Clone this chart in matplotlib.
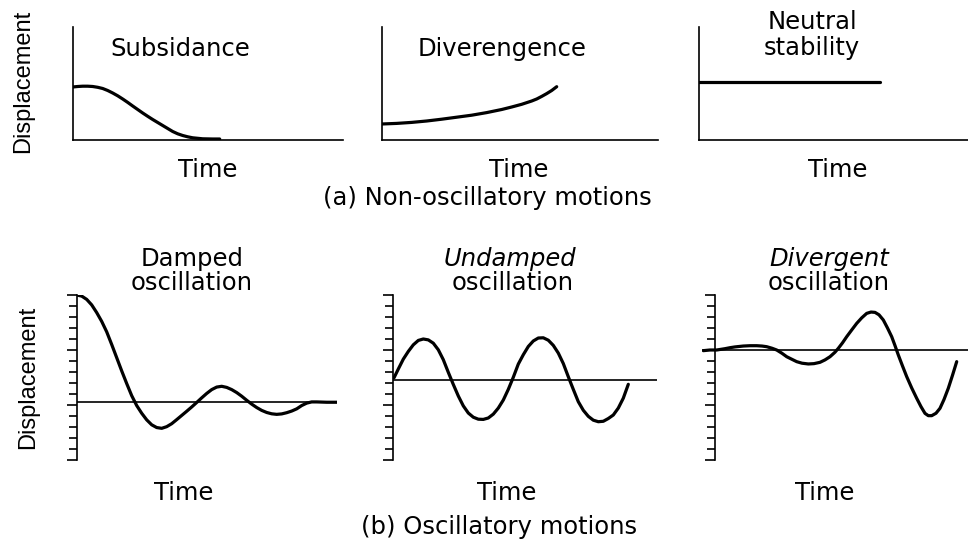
import numpy as np
import matplotlib.pyplot as plt

W, H = 968, 539

# (a) non-oscillatory motions: time, displacement
subsidance_t = [0, 0.5, 1, 1.5, 2, 2.5, 3, 3.5, 4, 4.5, 5, 5.5, 6, 6.5, 7, 7.5, 8, 8.5, 9,
                9.5, 10, 10.5, 11, 11.5, 12, 13, 14, 14.7]
subsidance_d = [5.3, 5.35, 5.38, 5.38, 5.35, 5.27, 5.15, 4.95, 4.7, 4.42, 4.1, 3.76, 3.4,
                3.05, 2.7, 2.37, 2.05, 1.75, 1.45, 1.15, 0.85, 0.62, 0.45, 0.32, 0.22, 0.12,
                0.1, 0.1]

divergence_t = [0, 1.5, 3, 4.5, 6, 7.5, 9, 10.5, 12, 13, 14, 15, 15.5, 16, 16.5, 17, 17.5]
divergence_d = [1.6, 1.66, 1.76, 1.9, 2.08, 2.28, 2.48, 2.74, 3.05, 3.3, 3.57, 3.9, 4.1,
                4.36, 4.64, 4.95, 5.33]

neutral_t = [0, 18.1]
neutral_d = [5.77, 5.77]

# (b) oscillatory motions
damped_t = [0, 0.5, 1, 1.5, 2, 2.5, 3, 3.5, 4, 4.5, 5, 5.5, 6, 6.5, 7, 7.5, 8, 8.5, 9, 9.5,
            10, 10.5, 11, 11.5, 12, 12.5, 13, 13.5, 14, 14.5, 15, 15.5, 16, 16.5, 17, 17.5,
            18, 18.5, 19, 19.5, 20, 20.5, 21, 21.5, 22, 22.5, 23, 23.5, 24, 25, 26.17]
damped_d = [9.75, 9.65, 9.35, 8.85, 8.15, 7.35, 6.4, 5.25, 4.05, 2.85, 1.7, 0.6, -0.3, -1.0,
            -1.6, -2.05, -2.3, -2.37, -2.22, -1.95, -1.58, -1.2, -0.82, -0.43, -0.02, 0.4,
            0.8, 1.15, 1.38, 1.45, 1.35, 1.15, 0.88, 0.55, 0.18, -0.17, -0.48, -0.74, -0.93,
            -1.05, -1.1, -1.06, -0.95, -0.8, -0.6, -0.3, -0.08, 0.03, 0.03, 0, 0]

undamped_t = [0.07, 0.5, 1, 1.5, 2, 2.5, 3, 3.5, 4, 4.5, 5, 5.5, 6, 6.5, 7, 7.5, 8, 8.5, 9,
              9.5, 10, 10.5, 11, 11.5, 12, 12.5, 13, 13.5, 14, 14.5, 15, 15.5, 16, 16.5, 17,
              17.5, 18, 18.5, 19, 19.5, 20, 20.5, 21, 21.5, 22, 22.5, 23, 23.5]
undamped_d = [0.2, 1.0, 1.9, 2.6, 3.2, 3.6, 3.73, 3.65, 3.35, 2.75, 1.85, 0.7, -0.4, -1.45,
              -2.35, -3.0, -3.38, -3.56, -3.58, -3.45, -3.1, -2.55, -1.82, -0.85, 0.25, 1.45,
              2.3, 3.05, 3.55, 3.82, 3.84, 3.62, 3.15, 2.45, 1.5, 0.3, -0.85, -1.97, -2.75,
              -3.3, -3.65, -3.79, -3.75, -3.5, -3.18, -2.55, -1.65, -0.39]

divergent_t = [-1.17, -0.5, 0.17, 1.0, 1.5, 2.0, 2.83, 3.5, 4.17, 4.7, 5.17, 5.7, 6.17, 6.7,
               7.17, 7.7, 8.17, 8.7, 9.33, 9.9, 10.5, 11.0, 11.5, 12.0, 12.33, 12.75, 13.17,
               13.67, 14.17, 14.67, 15.17, 15.6, 16.0, 16.4, 16.83, 17.25, 17.67, 18.0,
               18.33, 18.75, 19.17, 19.67, 20.17, 20.6, 21.0, 21.33, 21.67, 22.1, 22.5,
               22.9, 23.33, 23.75, 24.17]
divergent_d = [-0.06, 0, 0, 0.12, 0.21, 0.28, 0.36, 0.39, 0.39, 0.36, 0.3, 0.16, 0, -0.3,
               -0.61, -0.85, -1.06, -1.2, -1.27, -1.24, -1.12, -0.9, -0.61, -0.2, 0.15, 0.65,
               1.21, 1.82, 2.42, 2.92, 3.33, 3.45, 3.42, 3.2, 2.73, 2.0, 1.21, 0.4, -0.45,
               -1.45, -2.42, -3.45, -4.39, -5.15, -5.76, -5.97, -5.97, -5.75, -5.3, -4.5,
               -3.48, -2.3, -1.06]

FONT = 'DejaVu Sans'
CURVE_LW = 2.3
AXIS_LW = 1.2

fig = plt.figure(figsize=(W / 100, H / 100), dpi=100)


def px_axes(left, top, right, bottom):
    # place an axes using pixel edges measured from the top-left corner
    return fig.add_axes([left / W, 1 - bottom / H, (right - left) / W, (bottom - top) / H])


def label(x, y, s, size=17.5, **kw):
    fig.text(x / W, 1 - y / H, s, ha='center', va='center', family=FONT, size=size, **kw)


def top_panel(left, right, t, d):
    ax = px_axes(left, 26.7, right, 140)
    ax.plot(t, d, color='black', lw=CURVE_LW, solid_capstyle='round', solid_joinstyle='round')
    ax.set_xlim(0, (right - left) / 10)
    ax.set_ylim(0, 11.33)
    for s in ['top', 'right']:
        ax.spines[s].set_visible(False)
    for s in ['left', 'bottom']:
        ax.spines[s].set_linewidth(AXIS_LW)
    ax.set_xticks([])
    ax.set_yticks([])
    ax.patch.set_alpha(0)
    return ax


def bottom_panel(left, right, t, d, top_val, x0=0.0):
    # y units are one tick step (11 px), x units are 10 px
    ax = px_axes(left, 295, right, 460)
    ax.axhline(0, color='black', lw=AXIS_LW)
    ax.plot(t, d, color='black', lw=CURVE_LW, solid_capstyle='round', solid_joinstyle='round')
    ax.set_xlim(x0, x0 + (right - left) / 10)
    ax.set_ylim(top_val - 15, top_val)
    for s in ['top', 'right', 'bottom']:
        ax.spines[s].set_visible(False)
    ax.spines['left'].set_linewidth(AXIS_LW)
    ax.spines['left'].set_position(('data', 0))
    steps = np.arange(16)
    ax.set_yticks(top_val - steps[::5])
    ax.set_yticks(top_val - np.delete(steps, steps[::5]), minor=True)
    ax.tick_params(axis='y', which='major', direction='out', length=7.5, width=AXIS_LW, labelleft=False)
    ax.tick_params(axis='y', which='minor', direction='out', length=5.5, width=AXIS_LW)
    ax.set_xticks([])
    ax.patch.set_alpha(0)
    return ax


# top row
top_panel(72.7, 343, subsidance_t, subsidance_d)
top_panel(381.7, 658, divergence_t, divergence_d)
top_panel(699, 968, neutral_t, neutral_d)

label(180, 49, 'Subsidance')
label(502, 49, 'Diverengence')
label(812, 22, 'Neutral')
label(812, 48, 'stability')
for x in [208, 519, 838]:
    label(x, 170, 'Time')
label(487, 198, '(a) Non-oscillatory motions')
fig.text(23 / W, 1 - 81 / H, 'Displacement', rotation=90, ha='center', va='center',
         family='Liberation Sans', size=17)

# bottom row
bottom_panel(76.7, 337, damped_t, damped_d, 9.75)
bottom_panel(393.3, 656.7, undamped_t, undamped_d, 7.73)
bottom_panel(701.7, 968, divergent_t, divergent_d, 5.0, x0=-1.33)

label(192, 259, 'Damped')
label(192, 283, 'oscillation')
label(510, 259, 'Undamped', style='italic')
label(513, 283, 'oscillation')
label(829, 259, 'Divergent', style='italic')
label(829, 283, 'oscillation')
for x in [184, 507, 825]:
    label(x, 493, 'Time')
label(499, 527, '(b) Oscillatory motions')
fig.text(28 / W, 1 - 377 / H, 'Displacement', rotation=90, ha='center', va='center',
         family='Liberation Sans', size=17)

fig.savefig('out.png', dpi=100, facecolor='white')
